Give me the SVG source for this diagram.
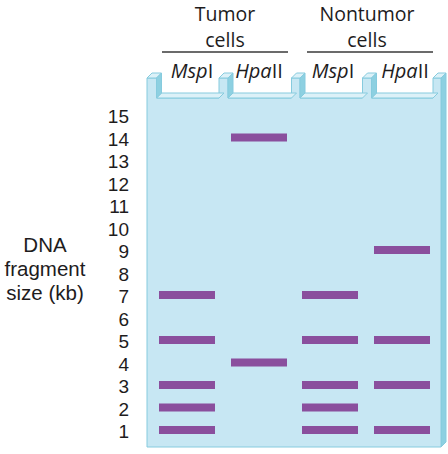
<svg xmlns="http://www.w3.org/2000/svg" width="448" height="454" viewBox="0 0 448 454">
<style>
text{font-family:"Open Sans","Noto Sans","Liberation Sans",sans-serif;fill:#1e1c1d}
.hd{font-size:19.5px;text-anchor:middle}
.ax{font-family:"Liberation Sans",Arial,sans-serif;font-size:20.5px;text-anchor:middle}
.num{font-family:"Liberation Sans",Arial,sans-serif;font-size:19px;text-anchor:end}
.lane{font-size:20px;text-anchor:middle}
.it{font-style:italic}
.face{fill:#c7e7f3;stroke:#86cbde;stroke-width:1}
.top{fill:#dcf1f8;stroke:#86cbde;stroke-width:1}
.side{fill:#8dd0e1;stroke:#86cbde;stroke-width:1}
.band{fill:#8a4f9d}
.rule{stroke:#3a3a3a;stroke-width:1.5}
</style>
<g id="headers">
<text class="hd" x="225" y="21">Tumor</text>
<text class="hd" x="225" y="46.5">cells</text>
<line class="rule" x1="162" y1="52" x2="288" y2="52"/>
<text class="hd" x="367" y="21">Nontumor</text>
<text class="hd" x="367" y="46.5">cells</text>
<line class="rule" x1="307" y1="52" x2="433" y2="52"/>
</g>
<g id="gel">
<polygon class="side" points="441,78 446,73 446,442 441,447"/>
<polygon class="face" points="147,447 147,78 156.5,78 156.5,98 219,98 219,78 228,78 228,98 291.5,98 291.5,78 300,78 300,98 362.5,98 362.5,78 371.5,78 371.5,98 433,98 433,78 441,78 441,447"/>
<polygon class="top" points="156.5,98 219,98 224,93 161.5,93"/>
<polygon class="top" points="228,98 291.5,98 296.5,93 233,93"/>
<polygon class="top" points="300,98 362.5,98 367.5,93 305,93"/>
<polygon class="top" points="371.5,98 433,98 438,93 376.5,93"/>
<polygon class="top" points="147,78 156.5,78 161.5,73 152,73"/>
<polygon class="top" points="219,78 228,78 233,73 224,73"/>
<polygon class="top" points="291.5,78 300,78 305,73 296.5,73"/>
<polygon class="top" points="362.5,78 371.5,78 376.5,73 367.5,73"/>
<polygon class="top" points="433,78 441,78 446,73 438,73"/>
<polygon class="side" points="156.5,78 161.5,73 161.5,93 156.5,98"/>
<polygon class="side" points="228,78 233,73 233,93 228,98"/>
<polygon class="side" points="300,78 305,73 305,93 300,98"/>
<polygon class="side" points="371.5,78 376.5,73 376.5,93 371.5,98"/>
</g>
<g id="lane-labels">
<text class="lane" x="192" y="78"><tspan class="it">Msp</tspan>I</text>
<text class="lane" x="259" y="78"><tspan class="it">Hpa</tspan>II</text>
<text class="lane" x="333" y="78"><tspan class="it">Msp</tspan>I</text>
<text class="lane" x="405" y="78"><tspan class="it">Hpa</tspan>II</text>
</g>
<g id="size-scale">
<text class="num" x="129" y="123">15</text>
<text class="num" x="129" y="145.5">14</text>
<text class="num" x="129" y="168">13</text>
<text class="num" x="129" y="190.5">12</text>
<text class="num" x="129" y="213">11</text>
<text class="num" x="129" y="235.5">10</text>
<text class="num" x="129" y="258">9</text>
<text class="num" x="129" y="280.5">8</text>
<text class="num" x="129" y="303">7</text>
<text class="num" x="129" y="325.5">6</text>
<text class="num" x="129" y="348">5</text>
<text class="num" x="129" y="370.5">4</text>
<text class="num" x="129" y="393">3</text>
<text class="num" x="129" y="415.5">2</text>
<text class="num" x="129" y="438">1</text>
</g>
<g id="axis-title">
<text class="ax" x="45" y="252">DNA</text>
<text class="ax" x="45" y="276">fragment</text>
<text class="ax" x="45" y="300">size (kb)</text>
</g>
<g id="bands">
<rect class="band" x="159" y="291" width="56" height="8"/>
<rect class="band" x="159" y="336" width="56" height="8"/>
<rect class="band" x="159" y="381" width="56" height="8"/>
<rect class="band" x="159" y="403.5" width="56" height="8"/>
<rect class="band" x="159" y="426" width="56" height="8"/>
<rect class="band" x="231" y="133.5" width="56" height="8"/>
<rect class="band" x="231" y="358.5" width="56" height="8"/>
<rect class="band" x="302" y="291" width="56" height="8"/>
<rect class="band" x="302" y="336" width="56" height="8"/>
<rect class="band" x="302" y="381" width="56" height="8"/>
<rect class="band" x="302" y="403.5" width="56" height="8"/>
<rect class="band" x="302" y="426" width="56" height="8"/>
<rect class="band" x="374" y="246" width="56" height="8"/>
<rect class="band" x="374" y="336" width="56" height="8"/>
<rect class="band" x="374" y="381" width="56" height="8"/>
<rect class="band" x="374" y="426" width="56" height="8"/>
</g>
</svg>
